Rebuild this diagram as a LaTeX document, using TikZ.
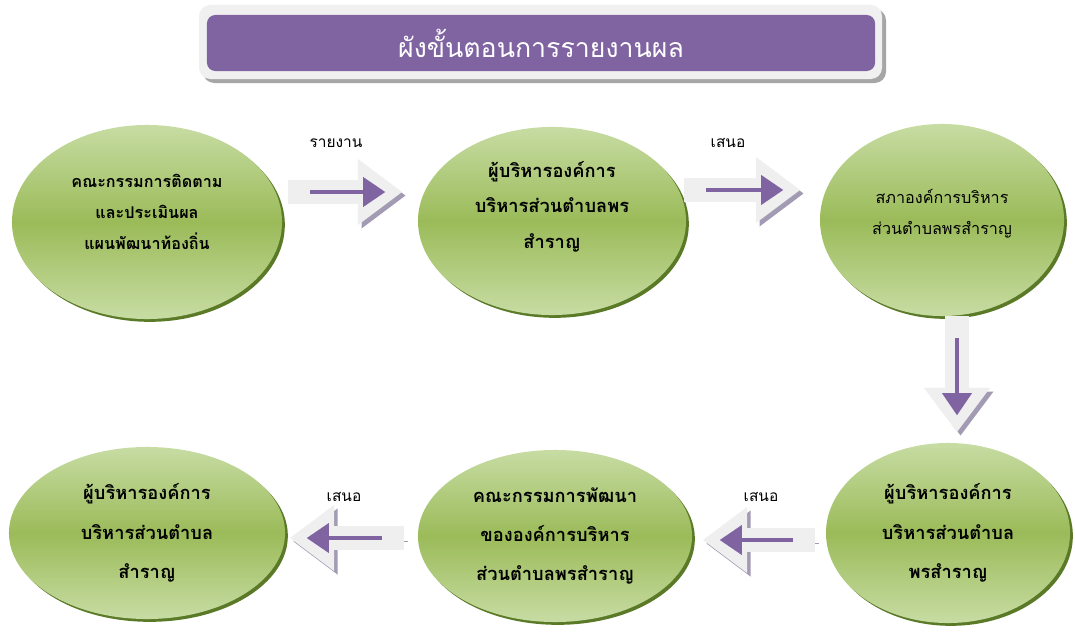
\documentclass[tikz,border=0pt]{standalone}
\usepackage{fontspec}
\newfontfamily\thaifont[Script=Thai]{Loma}
\usetikzlibrary{shapes.geometric,arrows.meta,positioning}
\definecolor{titlepurple}{HTML}{8064A2}
\definecolor{leafgreen}{HTML}{9BBB59}
\definecolor{leaflight}{HTML}{C7DCA3}
\definecolor{leafdark}{HTML}{5B7A28}
\definecolor{arrowfill}{HTML}{EFEFEF}
\definecolor{arrowshade}{HTML}{A39BB3}
\definecolor{frameshade}{HTML}{A6A6A6}

\begin{document}
\begin{tikzpicture}[x=0.025cm,y=-0.025cm,
    stage/.style={ellipse,inner sep=0pt,align=center,text=black,
        top color=leaflight,bottom color=leaflight,middle color=leafgreen,
        preaction={fill=leafdark,transform canvas={shift={(2pt,-2pt)}}}},
    blockarrow/.style={draw=arrowfill,line width=0.6cm,
        -{Triangle[length=1.1cm,width=1.65cm,line width=0pt]},
        preaction={draw=arrowshade,transform canvas={shift={(2.5pt,-2.5pt)}}},
        postaction={draw=titlepurple,line width=0.12cm,shorten <=0.55cm,shorten >=0.42cm,
            -{Triangle[length=0.55cm,width=0.75cm,line width=0pt]}}},
    steplabel/.style={font=\thaifont\labelfontsize,text=black}]
    \providecommand{\titlefontsize}{\fontsize{19pt}{22pt}\selectfont}
    \providecommand{\narrowfontsize}{\fontsize{11.5pt}{22pt}\selectfont}
    \providecommand{\stagefontsize}{\fontsize{13pt}{25pt}\selectfont}
    \providecommand{\widefontsize}{\fontsize{13pt}{28pt}\selectfont}
    \providecommand{\labelfontsize}{\fontsize{11pt}{13pt}\selectfont}
    \fill[white] (0,0) rectangle (1075,637);
    % title bar
    \fill[frameshade,rounded corners=8pt] (203,9) rectangle (886,83);
    \fill[white!94!black,rounded corners=8pt] (199,5) rectangle (882,79);
    \node[fill=titlepurple,rounded corners=6pt,minimum width=16.7cm,minimum height=1.4cm,
        text=white,font=\thaifont\titlefontsize] (title) at (541,43) {ผังขั้นตอนการรายงานผล};
    % stages
    \node[stage,minimum width=6.75cm,minimum height=4.85cm,font=\thaifont\bfseries\narrowfontsize] (monitor) at (147,222)
        {คณะกรรมการติดตาม\\และประเมินผล\\แผนพัฒนาท้องถิ่น\\[-8pt]};
    \node[stage,minimum width=6.7cm,minimum height=4.7cm,font=\thaifont\bfseries\stagefontsize] (chief) at (552,221)
        {ผู้บริหารองค์การ\\บริหารส่วนตำบลพร\\สำราญ\\[-2pt]};
    \node[stage,minimum width=6.1cm,minimum height=4.8cm,font=\thaifont\narrowfontsize] (council) at (942,220)
        {สภาองค์การบริหาร\\ส่วนตำบลพรสำราญ\\[-10pt]};
    \node[stage,minimum width=6.1cm,minimum height=4.5cm,font=\thaifont\bfseries\widefontsize] (chieftwo) at (948,533)
        {ผู้บริหารองค์การ\\บริหารส่วนตำบล\\พรสำราญ};
    \node[stage,minimum width=6.85cm,minimum height=4.3cm,font=\thaifont\bfseries\widefontsize] (devboard) at (555,536)
        {คณะกรรมการพัฒนา\\ขององค์การบริหาร\\ส่วนตำบลพรสำราญ};
    \node[stage,minimum width=6.9cm,minimum height=4.3cm,font=\thaifont\bfseries\widefontsize] (chiefthree) at (147,533)
        {ผู้บริหารองค์การ\\บริหารส่วนตำบล\\สำราญ};
    % arrow ends
    \coordinate (r1s) at (288,192);
    \coordinate (r1e) at (402,192);
    \coordinate (r2s) at (684,190);
    \coordinate (r2e) at (800,190);
    \coordinate (r3s) at (957,316);
    \coordinate (r3e) at (957,432);
    \coordinate (r4s) at (815,540);
    \coordinate (r4e) at (703,540);
    \coordinate (r5s) at (404,538);
    \coordinate (r5e) at (290,538);
    \draw[blockarrow] (r1s) -- (r1e);
    \draw[blockarrow] (r2s) -- (r2e);
    \draw[blockarrow] (r3s) -- (r3e);
    \draw[blockarrow] (r4s) -- (r4e);
    \draw[blockarrow] (r5s) -- (r5e);
    \node[steplabel] (report) at (336,143) {รายงาน};
    \node[steplabel] (propose) at (728,143) {เสนอ};
    \node[steplabel] (proposetwo) at (761,497) {เสนอ};
    \node[steplabel] (proposethree) at (344,497) {เสนอ};
\end{tikzpicture}
\end{document}
